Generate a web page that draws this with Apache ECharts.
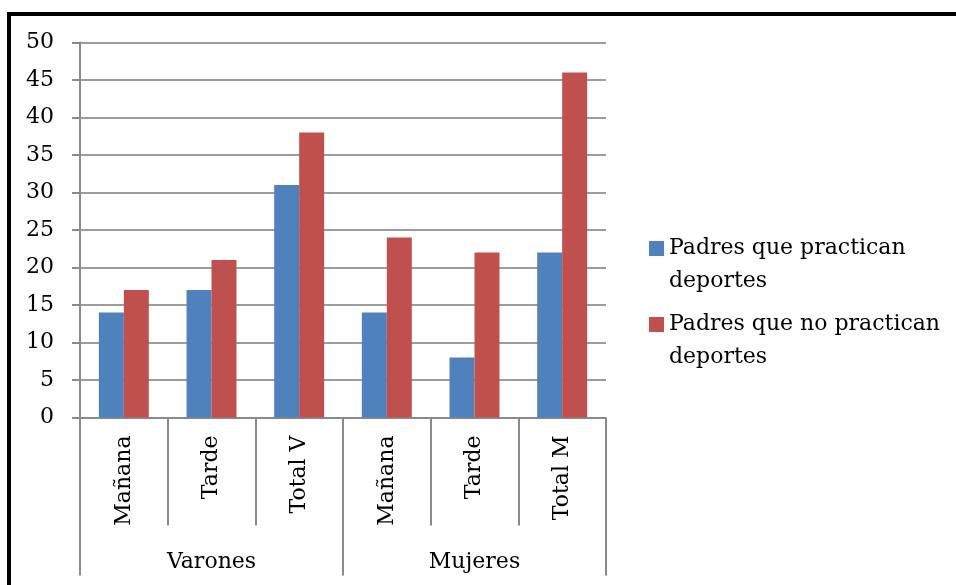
<!DOCTYPE html>
<html>
<head>
<meta charset="utf-8">
<script src="https://cdn.jsdelivr.net/npm/echarts@6/dist/echarts.min.js"></script>
<style>
html,body{margin:0;padding:0;background:#fff;}
#c{width:956px;height:585px;}
</style>
</head>
<body>
<div id="c"></div>
<script>
const categories = ['Mañana', 'Tarde', 'Total V', 'Mañana', 'Tarde', 'Total M'];
const groups = ['Varones', 'Mujeres'];
const seriesNames = ['Padres que practican deportes', 'Padres que no practican deportes'];
const practican = [14, 17, 31, 14, 8, 22];
const noPractican = [17, 21, 38, 24, 22, 46];
const yTicks = { min: 0, max: 50, interval: 5 };

const FONT = 'DejaVu Serif';
const GRID_GRAY = '#9c9c9c';
const AXIS_GRAY = '#8a8a8a';

const chart = echarts.init(document.getElementById('c'), null, { renderer: 'canvas' });

function legendFor(idx, top) {
  return {
    data: [seriesNames[idx]],
    left: 649,
    top: top,
    padding: 0,
    itemWidth: 15,
    itemHeight: 15,
    icon: 'rect',
    selectedMode: false,
    formatter: function (name) {
      const parts = name.split(' ');
      const last = parts.pop();
      return '\u00a0\n' + parts.join(' ') + '\n' + last;
    },
    textStyle: {
      fontFamily: FONT,
      fontSize: 22,
      color: '#000',
      lineHeight: 33
    }
  };
}

chart.setOption({
  animation: false,
  backgroundColor: '#fff',
  color: ['#4F81BD', '#C0504D'],
  graphic: [{
    type: 'rect',
    shape: { x: 9, y: 14, width: 2000, height: 2000 },
    style: { fill: 'none', stroke: '#000', lineWidth: 4 },
    silent: true
  }],
  legend: [legendFor(0, 199), legendFor(1, 275)],
  grid: {
    left: 80, right: 350, top: 42.5, bottom: 167.5,
    containLabel: false,
    outerBoundsMode: 'none'
  },
  xAxis: [{
    type: 'category',
    data: categories,
    position: 'bottom',
    axisLine: { show: true, lineStyle: { color: AXIS_GRAY, width: 2 } },
    axisTick: { show: true, interval: 0, length: 108, lineStyle: { color: AXIS_GRAY, width: 2 } },
    axisLabel: { interval: 0, rotate: 90, margin: 18, fontFamily: FONT, fontSize: 22, color: '#000' },
    splitLine: { show: false }
  }, {
    type: 'category',
    data: groups,
    position: 'bottom',
    offset: 0,
    axisLine: { show: false },
    axisTick: { show: true, interval: 0, length: 158, lineStyle: { color: AXIS_GRAY, width: 2 } },
    axisLabel: { interval: 0, margin: 134, fontFamily: FONT, fontSize: 22, color: '#000' },
    splitLine: { show: false }
  }],
  yAxis: {
    type: 'value',
    min: yTicks.min,
    max: yTicks.max,
    interval: yTicks.interval,
    axisLine: { show: true, lineStyle: { color: AXIS_GRAY, width: 2 } },
    axisTick: { show: true, length: 8, lineStyle: { color: AXIS_GRAY, width: 2 } },
    axisLabel: { margin: 26, fontFamily: FONT, fontSize: 22, color: '#000' },
    splitLine: { show: true, lineStyle: { color: GRID_GRAY, width: 2 } }
  },
  series: [{
    name: seriesNames[0],
    type: 'bar',
    xAxisIndex: 0,
    data: practican,
    barGap: '0%',
    barCategoryGap: '43%'
  }, {
    name: seriesNames[1],
    type: 'bar',
    xAxisIndex: 0,
    data: noPractican,
    barGap: '0%',
    barCategoryGap: '43%'
  }]
});
</script>
</body>
</html>
